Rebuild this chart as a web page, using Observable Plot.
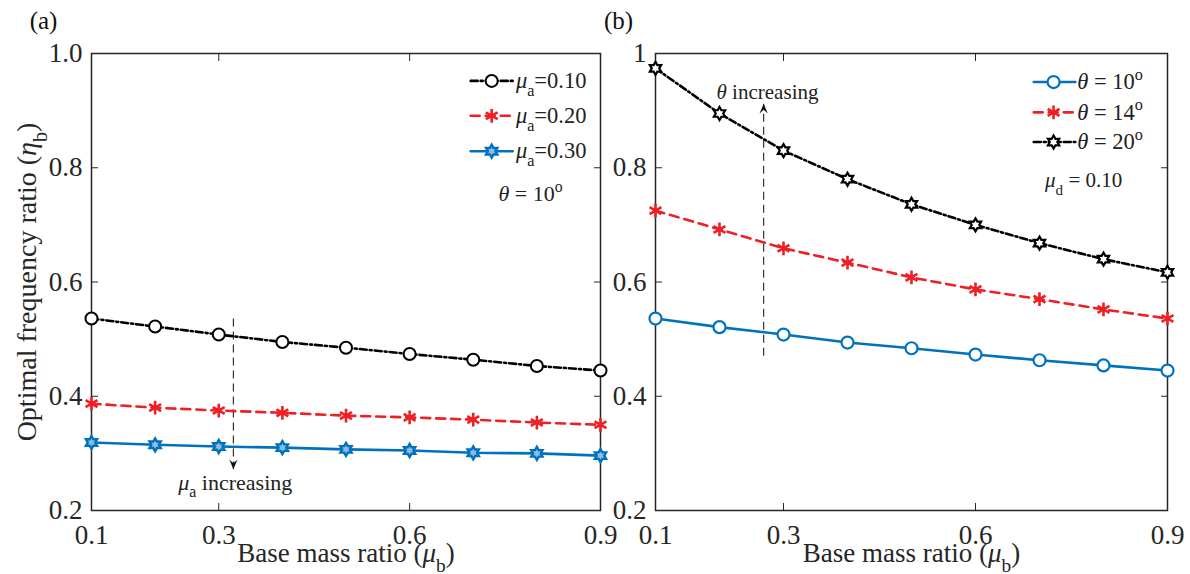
<!DOCTYPE html>
<html>
<head>
<meta charset="utf-8">
<script src="https://cdn.jsdelivr.net/npm/d3@7"></script>
<script src="https://cdn.jsdelivr.net/npm/@observablehq/plot@0.6"></script>
<style>
  html, body { margin: 0; padding: 0; background: #fff; }
  #wrap { display: flex; width: 1190px; height: 574px; }
  svg { overflow: visible; }
</style>
</head>
<body>
<div id="wrap"></div>
<script>
// ---------- data ----------
const massRatio = [0.1, 0.2, 0.3, 0.4, 0.5, 0.6, 0.7, 0.8, 0.9];

// panel (a): theta = 10 deg
const muA010 = [0.536, 0.522, 0.508, 0.495, 0.485, 0.474, 0.464, 0.453, 0.445];
const muA020 = [0.387, 0.380, 0.375, 0.371, 0.366, 0.363, 0.359, 0.354, 0.350];
const muA030 = [0.319, 0.315, 0.312, 0.310, 0.307, 0.305, 0.301, 0.300, 0.296];

// panel (b): mu_d = 0.10
const theta10 = [0.536, 0.521, 0.508, 0.494, 0.484, 0.473, 0.463, 0.454, 0.445];
const theta14 = [0.725, 0.692, 0.659, 0.634, 0.608, 0.587, 0.570, 0.552, 0.536];
const theta20 = [0.974, 0.895, 0.830, 0.780, 0.736, 0.700, 0.668, 0.640, 0.617];

const legendA = ["μ_a=0.10", "μ_a=0.20", "μ_a=0.30"];
const legendB = ["θ = 10^o", "θ = 14^o", "θ = 20^o"];

const xTicks = [0.1, 0.3, 0.6, 0.9];
const xTickLabels = ["0.1", "0.3", "0.6", "0.9"];
const yTicks = [0.2, 0.4, 0.6, 0.8, 1.0];
const yTickLabelsA = ["0.2", "0.4", "0.6", "0.8", "1.0"];
const yTickLabelsB = ["0.2", "0.4", "0.6", "0.8", "1"];

// annotation anchors (data coordinates)
const legendAx = [0.696, 0.762, 0.729, 0.767];   // line start, line end, marker, text start
const legendAy = [0.952, 0.891, 0.829];
const legendBx = [0.691, 0.756, 0.722, 0.759];
const legendBy = [0.950, 0.897, 0.845];
const arrowA = {x: 0.323, y1: 0.536, y2: 0.272};
const arrowB = {x: 0.269, y1: 0.471, y2: 0.912};
const noteA = [{x: 0.326, y: 0.249, t: "μ_a increasing", s: 22}, {x: 0.790, y: 0.754, t: "θ = 10^o", s: 22}];
const noteB = [{x: 0.275, y: 0.932, t: "θ increasing", s: 21}, {x: 0.769, y: 0.778, t: "μ_d = 0.10", s: 21}];

// ---------- styles ----------
const BLUE = "#0072BD", RED = "#ee2026", BLACK = "#000000";
const DASHDOT = "7,3,2,3", DASHED = "9,6";
const FONT = "'Liberation Serif', 'Times New Roman', serif";

const hexagram = {
  draw(ctx, size) {
    const R = Math.sqrt(size / Math.PI), r = R / Math.sqrt(3);
    for (let i = 0; i < 12; i++) {
      const a = Math.PI / 6 * i - Math.PI / 2, rr = i % 2 ? r : R;
      const px = rr * Math.cos(a), py = rr * Math.sin(a);
      i ? ctx.lineTo(px, py) : ctx.moveTo(px, py);
    }
    ctx.closePath();
  }
};
const stealth = { // tip at origin, pointing down
  draw(ctx, size) {
    const h = Math.sqrt(size / Math.PI) * 1.4, w = h * 0.42;
    ctx.moveTo(0, 0); ctx.lineTo(-w, -h); ctx.lineTo(0, -h * 0.62); ctx.lineTo(w, -h); ctx.closePath();
  }
};

const rows = ys => massRatio.map((x, i) => ({x, y: ys[i]}));

function seriesMarks(ys, s) {
  const d = rows(ys);
  return [
    Plot.line(d, {x: "x", y: "y", stroke: s.color, strokeWidth: 2.6, strokeDasharray: s.dash}),
    Plot.dot(d, {x: "x", y: "y", symbol: s.symbol, r: s.r, stroke: s.color, fill: s.fill, strokeWidth: s.sw})
  ];
}
function legendMarks(labels, styles, lx, ly) {
  const marks = [];
  labels.forEach((lab, i) => {
    const s = styles[i];
    marks.push(Plot.line([{x: lx[0], y: ly[i]}, {x: lx[1], y: ly[i]}], {x: "x", y: "y", stroke: s.color, strokeWidth: 2.6, strokeDasharray: s.dash}));
    marks.push(Plot.dot([{x: lx[2], y: ly[i]}], {x: "x", y: "y", symbol: s.symbol, r: s.r, stroke: s.color, fill: s.fill, strokeWidth: s.sw}));
    marks.push(Plot.text([lab], {x: () => lx[3], y: () => ly[i], text: d => d, textAnchor: "start", lineAnchor: "middle", fontSize: 22.5, fill: "#222"}));
  });
  return marks;
}
function arrowMarks(a, up) {
  return [
    Plot.link([a], {x1: "x", x2: "x", y1: "y1", y2: "y2", stroke: "#222", strokeWidth: 1.1, strokeDasharray: "8,5"}),
    Plot.dot([a], {x: "x", y: "y2", symbol: stealth, r: 7, fill: "#111", stroke: "none", rotate: up ? 180 : 0})
  ];
}
function axes(yLabels) {
  return [
    Plot.axisX(xTicks, {anchor: "bottom", tickSize: -7, tickPadding: 21, tickFormat: d => xTickLabels[xTicks.indexOf(d)], label: null, fontSize: 27, stroke: "#262626", fill: "#262626"}),
    Plot.axisX(xTicks, {anchor: "top", tickSize: -7, tickFormat: () => "", label: null, stroke: "#262626"}),
    Plot.axisY(yTicks, {anchor: "left", tickSize: -7, tickPadding: 16, tickFormat: d => yLabels[yTicks.indexOf(d)], label: null, fontSize: 27, stroke: "#262626", fill: "#262626"}),
    Plot.axisY(yTicks, {anchor: "right", tickSize: -7, tickFormat: () => "", label: null, stroke: "#262626"}),
    Plot.frame({stroke: "#262626", strokeWidth: 1.5})
  ];
}

const stA = [
  {color: BLACK, dash: DASHDOT, symbol: "circle", r: 6, fill: "white", sw: 2},
  {color: RED, dash: DASHED, symbol: "asterisk", r: 6.5, fill: "none", sw: 2.6},
  {color: BLUE, dash: null, symbol: hexagram, r: 6.5, fill: "#8dbde3", sw: 2.4}
];
const stB = [
  {color: BLUE, dash: null, symbol: "circle", r: 6, fill: "white", sw: 2.2},
  {color: RED, dash: DASHED, symbol: "asterisk", r: 6.5, fill: "none", sw: 2.6},
  {color: BLACK, dash: DASHDOT, symbol: hexagram, r: 6.5, fill: "white", sw: 2.2}
];

const common = {
  height: 574, marginTop: 53, marginBottom: 64,
  x: {domain: [0.1, 0.9]}, y: {domain: [0.2, 1.0]},
  style: {fontFamily: FONT, fontSize: "24px", color: "#262626", background: "transparent"}
};

const plotA = Plot.plot({
  ...common, width: 605, marginLeft: 91, marginRight: 5,
  marks: [
    ...axes(yTickLabelsA),
    ...arrowMarks(arrowA, false),
    ...seriesMarks(muA010, stA[0]),
    ...seriesMarks(muA020, stA[1]),
    ...seriesMarks(muA030, stA[2]),
    ...legendMarks(legendA, stA, legendAx, legendAy),
    Plot.text(noteA, {x: "x", y: "y", text: "t", fontSize: "s", fill: "#222", lineAnchor: "middle", textAnchor: "middle"}),
    Plot.text(["(a)"], {frameAnchor: "top-left", dx: -48, dy: -33, text: d => d, textAnchor: "middle", fontSize: 25, fill: "#111", lineAnchor: "middle"}),
    Plot.text(["Optimal frequency ratio (η_b)"], {frameAnchor: "left", dx: -64, rotate: -90, text: d => d, textAnchor: "middle", fontSize: 28, fill: "#262626", lineAnchor: "middle"}),
    Plot.text(["Base mass ratio (μ_b)"], {frameAnchor: "bottom", dy: 43, text: d => d, textAnchor: "middle", fontSize: 27, fill: "#262626", lineAnchor: "middle"})
  ]
});

const plotB = Plot.plot({
  ...common, width: 585, marginLeft: 50, marginRight: 23,
  marks: [
    ...axes(yTickLabelsB),
    ...arrowMarks(arrowB, true),
    ...seriesMarks(theta10, stB[0]),
    ...seriesMarks(theta14, stB[1]),
    ...seriesMarks(theta20, stB[2]),
    ...legendMarks(legendB, stB, legendBx, legendBy),
    Plot.text(noteB, {x: "x", y: "y", text: "t", fontSize: "s", fill: "#222", lineAnchor: "middle", textAnchor: "middle"}),
    Plot.text(["(b)"], {frameAnchor: "top-left", dx: -37, dy: -33, text: d => d, textAnchor: "middle", fontSize: 25, fill: "#111", lineAnchor: "middle"}),
    Plot.text(["Base mass ratio (μ_b)"], {frameAnchor: "bottom", dy: 43, text: d => d, textAnchor: "middle", fontSize: 27, fill: "#262626", lineAnchor: "middle"})
  ]
});

const wrap = document.getElementById("wrap");
wrap.appendChild(plotA);
wrap.appendChild(plotB);

// rich text: Greek italic, _x subscript, ^x superscript
const NS = "http://www.w3.org/2000/svg";
function rich(root) {
  root.querySelectorAll("text").forEach(t => {
    const els = t.querySelectorAll("tspan").length ? [...t.querySelectorAll("tspan")] : [t];
    for (const el of els) {
      const s = el.textContent;
      if (!/[_^μθη]/.test(s)) continue;
      const fs = parseFloat(getComputedStyle(el).fontSize) || 22;
      el.textContent = "";
      let shift = 0;
      for (let i = 0; i < s.length; i++) {
        const c = s[i];
        const sp = document.createElementNS(NS, "tspan");
        if ((c === "_" || c === "^") && i + 1 < s.length) {
          const ch = s[++i];
          const target = c === "_" ? 0.36 * fs : -0.42 * fs;
          sp.setAttribute("dy", target - shift); shift = target;
          sp.setAttribute("font-size", (0.72 * fs).toFixed(1));
          sp.textContent = ch;
        } else {
          if (shift) { sp.setAttribute("dy", -shift); shift = 0; }
          if ("μθη".includes(c)) sp.setAttribute("font-style", "italic");
          sp.textContent = c;
        }
        el.appendChild(sp);
      }
    }
  });
}
rich(plotA); rich(plotB);
</script>
</body>
</html>
